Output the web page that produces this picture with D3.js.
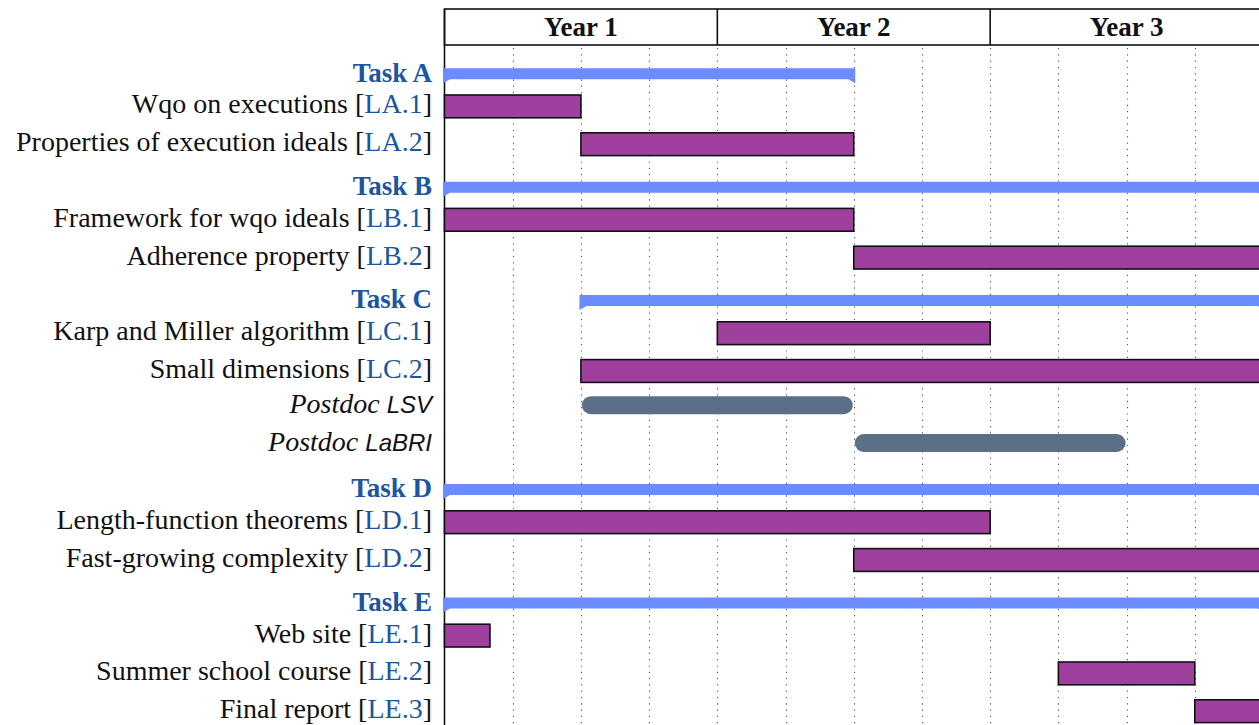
<!DOCTYPE html>
<html>
<head>
<meta charset="utf-8">
<script src="https://cdn.jsdelivr.net/npm/d3@7"></script>
<style>
  body { margin: 0; background: #fff; }
  .label { font-family: "Liberation Serif", serif; font-size: 28px; fill: #111; }
  .ref { fill: #1a57a0; }
  .task { font-weight: bold; fill: #1a57a0; font-size: 27px; }
  .year { font-family: "Liberation Serif", serif; font-size: 27px; font-weight: bold; fill: #111; }
</style>
</head>
<body>
<script>
// chart values
var years = ["Year 1", "Year 2", "Year 3"];
var rowNames = ["Task A", "Wqo on executions", "Properties of execution ideals",
    "Task B", "Framework for wqo ideals", "Adherence property",
    "Task C", "Karp and Miller algorithm", "Small dimensions", "Postdoc LSV", "Postdoc LaBRI",
    "Task D", "Length-function theorems", "Fast-growing complexity",
    "Task E", "Web site", "Summer school course", "Final report"];
var rowKinds = ["group", "bar", "bar",
    "group", "bar", "bar",
    "group", "bar", "bar", "postdoc", "postdoc",
    "group", "bar", "bar",
    "group", "bar", "bar", "bar"];
var rowRefs = ["", "LA.1", "LA.2", "", "LB.1", "LB.2", "", "LC.1", "LC.2", "", "",
    "", "LD.1", "LD.2", "", "LE.1", "LE.2", "LE.3"];
var rowStart = [0, 0, 6, 0, 0, 18, 6, 12, 6, 6, 18, 0, 0, 18, 0, 0, 27, 33];
var rowEnd = [18, 6, 18, 36, 18, 36, 36, 24, 36, 18, 30, 36, 24, 36, 36, 2, 33, 36];

var dim = { width: 1259, height: 725, left: 444.5, right: 1263, headTop: 9, headBottom: 45, row: 37.8 };

var svg = d3.select("body").append("svg")
    .attr("width", dim.width)
    .attr("height", dim.height);

var x = d3.scaleLinear().domain([0, 36]).range([dim.left, dim.right]);
var y = d3.scaleBand().domain(d3.range(rowNames.length))
    .range([dim.headBottom, dim.headBottom + rowNames.length * dim.row]);

// dotted grid every quarter
svg.append("g").selectAll("line").data(d3.range(3, 36, 3)).enter()
    .append("line")
    .attr("x1", function(d) { return Math.round(x(d)) + 0.5; })
    .attr("x2", function(d) { return Math.round(x(d)) + 0.5; })
    .attr("y1", dim.headBottom + 3)
    .attr("y2", dim.height)
    .attr("stroke", "#555")
    .attr("stroke-width", 1.1)
    .attr("stroke-dasharray", "1.2,5.1");

// header
var head = svg.append("g");
head.append("rect")
    .attr("x", dim.left).attr("y", dim.headTop)
    .attr("width", x(36) - dim.left).attr("height", dim.headBottom - dim.headTop)
    .attr("fill", "none").attr("stroke", "#111").attr("stroke-width", 1.6);
head.selectAll("line.sep").data([12, 24]).enter()
    .append("line").attr("class", "sep")
    .attr("x1", function(d) { return x(d); }).attr("x2", function(d) { return x(d); })
    .attr("y1", dim.headTop).attr("y2", dim.headBottom)
    .attr("stroke", "#111").attr("stroke-width", 1.6);
head.selectAll("text").data(years).enter()
    .append("text").attr("class", "year")
    .attr("x", function(d, i) { return x(i * 12 + 6); })
    .attr("y", 36)
    .attr("text-anchor", "middle")
    .text(function(d) { return d; });

// left axis line
svg.append("line")
    .attr("x1", dim.left).attr("x2", dim.left)
    .attr("y1", dim.headTop).attr("y2", dim.height)
    .attr("stroke", "#111").attr("stroke-width", 1.6);

var rows = svg.append("g").selectAll("g").data(rowNames).enter()
    .append("g")
    .attr("transform", function(d, i) { return "translate(0," + y(i) + ")"; });

// group bars with small peaks
rows.filter(function(d, i) { return rowKinds[i] === "group"; })
    .append("path")
    .attr("fill", "#6b8cff")
    .attr("d", function(d) {
        var i = rowNames.indexOf(d);
        var x0 = x(rowStart[i]) - 1.5, x1 = x(rowEnd[i]) + 1.5, t = 23.3, b = 34.3, p = 4, w = 7;
        return "M" + x0 + "," + t + "L" + x1 + "," + t + "L" + x1 + "," + (b + p) +
            "L" + (x1 - w) + "," + b + "L" + (x0 + w) + "," + b + "L" + x0 + "," + (b + p) + "Z";
    });

// task bars
rows.filter(function(d, i) { return rowKinds[i] === "bar"; })
    .append("rect")
    .attr("x", function(d) { return x(rowStart[rowNames.indexOf(d)]); })
    .attr("width", function(d) { var i = rowNames.indexOf(d); return x(rowEnd[i]) - x(rowStart[i]); })
    .attr("y", 12.2)
    .attr("height", 22.8)
    .attr("fill", "#a0409e")
    .attr("stroke", "#111")
    .attr("stroke-width", 1.6);

// postdoc bars
rows.filter(function(d, i) { return rowKinds[i] === "postdoc"; })
    .append("rect")
    .attr("x", function(d) { return x(rowStart[rowNames.indexOf(d)]) + 1; })
    .attr("width", function(d) { var i = rowNames.indexOf(d); return x(rowEnd[i]) - x(rowStart[i]) - 2; })
    .attr("y", 11)
    .attr("height", 18)
    .attr("rx", 9)
    .attr("fill", "#5b6f88");

// labels
var labels = rows.append("text")
    .attr("class", function(d, i) { return rowKinds[i] === "group" ? "label task" : "label"; })
    .attr("x", 432)
    .attr("y", function(d, i) { return rowKinds[i] === "group" ? 36.5 : (rowKinds[i] === "postdoc" ? 27.5 : 30.5); })
    .attr("text-anchor", "end");

labels.each(function(d, i) {
    var t = d3.select(this);
    if (rowKinds[i] === "group") {
        t.text(d);
    } else if (rowKinds[i] === "postdoc") {
        var parts = d.split(" ");
        t.append("tspan").style("font-style", "italic").text(parts[0] + " ");
        t.append("tspan").style("font-style", "italic")
            .style("font-family", "'Liberation Sans', sans-serif").style("font-size", "24px")
            .text(parts[1]);
    } else {
        t.append("tspan").text(d + " [");
        t.append("tspan").attr("class", "ref").text(rowRefs[i]);
        t.append("tspan").text("]");
    }
});
</script>
</body>
</html>
